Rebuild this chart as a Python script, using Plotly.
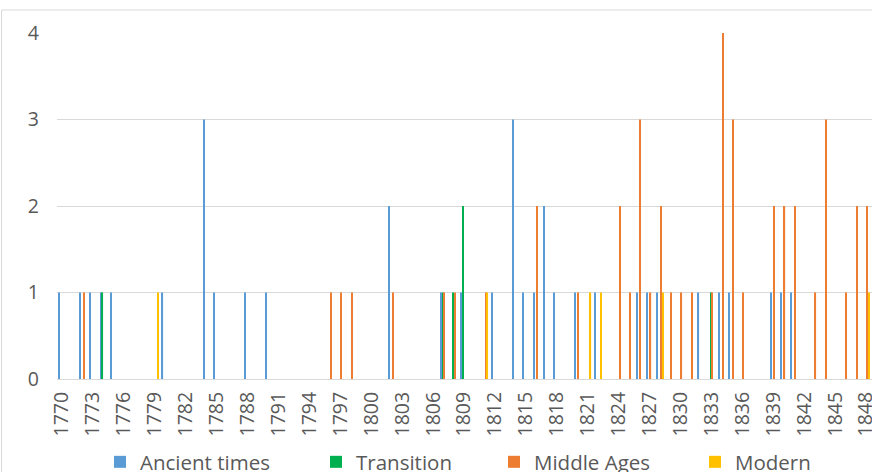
import plotly.graph_objects as go

# ---- data (years and counts per period) ----
ancient_years = [1770, 1772, 1773, 1774, 1775, 1780, 1784, 1785, 1788, 1790, 1802, 1807, 1809,
                 1812, 1814, 1815, 1816, 1817, 1818, 1820, 1822, 1826, 1827, 1828, 1832, 1834,
                 1835, 1839, 1840, 1841]
ancient_values = [1, 1, 1, 1, 1, 1, 3, 1, 1, 1, 2, 1, 1,
                  1, 3, 1, 1, 2, 1, 1, 1, 1, 1, 1, 1, 1,
                  1, 1, 1, 1]

transition_years = [1774, 1807, 1808, 1809, 1833]
transition_values = [1, 1, 1, 2, 1]

middle_years = [1772, 1796, 1797, 1798, 1802, 1807, 1808, 1811, 1816, 1820, 1824, 1825, 1826,
                1827, 1828, 1829, 1830, 1831, 1833, 1834, 1835, 1836, 1839, 1840, 1841, 1843,
                1844, 1846, 1847, 1848]
middle_values = [1, 1, 1, 1, 1, 1, 1, 1, 2, 1, 2, 1, 3,
                 1, 2, 1, 1, 1, 1, 4, 3, 1, 2, 2, 2, 1,
                 3, 1, 2, 2]

modern_years = [1779, 1811, 1821, 1822, 1828, 1848]
modern_values = [1, 1, 1, 1, 1, 1]

tick_years = list(range(1770, 1849, 3))
y_ticks = [0, 1, 2, 3, 4]

series = [
    ("Ancient times", ancient_years, ancient_values, "#5B9BD5", "legend"),
    ("Transition", transition_years, transition_values, "#00B050", "legend2"),
    ("Middle Ages", middle_years, middle_values, "#ED7D31", "legend3"),
    ("Modern", modern_years, modern_values, "#FFC000", "legend4"),
]

W, H = 872, 472
ML, MR, MT, MB = 57, 0, 33, 93
PW, PH = W - ML - MR, H - MT - MB
FONT = "Open Sans"
TXT = "#595959"

fig = go.Figure()
for name, xs, ys, col, lg in series:
    fig.add_trace(go.Bar(x=xs, y=ys, name=name, marker=dict(color=col, line=dict(width=0)),
                         legend=lg))

legend_text_x = [141, 357, 535, 736]
leg_common = dict(orientation="h", xref="container", yref="container",
                  xanchor="left", yanchor="middle", y=1 - 462 / H,
                  font=dict(family=FONT, size=20.5, color=TXT),
                  bgcolor="rgba(0,0,0,0)", borderwidth=0, itemwidth=30)
legends = {}
for i, tx in enumerate(legend_text_x):
    key = "legend" if i == 0 else f"legend{i+1}"
    legends[key] = dict(leg_common, x=(tx - 41) / W)

fig.update_layout(
    width=W, height=H,
    margin=dict(l=ML, r=MR, t=MT, b=MB, autoexpand=False),
    paper_bgcolor="white", plot_bgcolor="white",
    barmode="group", bargap=0.30, bargroupgap=0.35,
    showlegend=True,
    font=dict(family=FONT, color=TXT),
    xaxis=dict(range=[1769.5, 1848.57], tickmode="array", tickvals=tick_years,
               ticktext=[str(t) for t in tick_years], tickangle=-90, automargin=False,
               ticklabeloverflow="allow",
               showgrid=False, zeroline=False, showline=False, ticks="",
               tickfont=dict(family=FONT, size=19.5, color=TXT), ticklabelstandoff=8),
    yaxis=dict(range=[0, 4], tickmode="array", tickvals=y_ticks, automargin=False,
               showgrid=True, gridcolor="#D9D9D9", gridwidth=1,
               zeroline=True, zerolinecolor="#D9D9D9", zerolinewidth=1,
               showline=False, ticks="",
               tickfont=dict(family=FONT, size=19.5, color=TXT), ticklabelstandoff=17),
    **legends,
)

# chart-area border
fig.add_shape(type="rect", xref="paper", yref="paper",
              x0=(1.5 - ML) / PW, x1=(900 - ML) / PW,
              y0=(H - MB - 490) / PH, y1=(H - MB - 10) / PH,
              line=dict(color="#D9D9D9", width=1), fillcolor="rgba(0,0,0,0)", layer="below")

fig.write_html("out.html", config={"displayModeBar": False},
               post_script="document.body.style.margin='0';document.body.style.overflow='hidden';")
